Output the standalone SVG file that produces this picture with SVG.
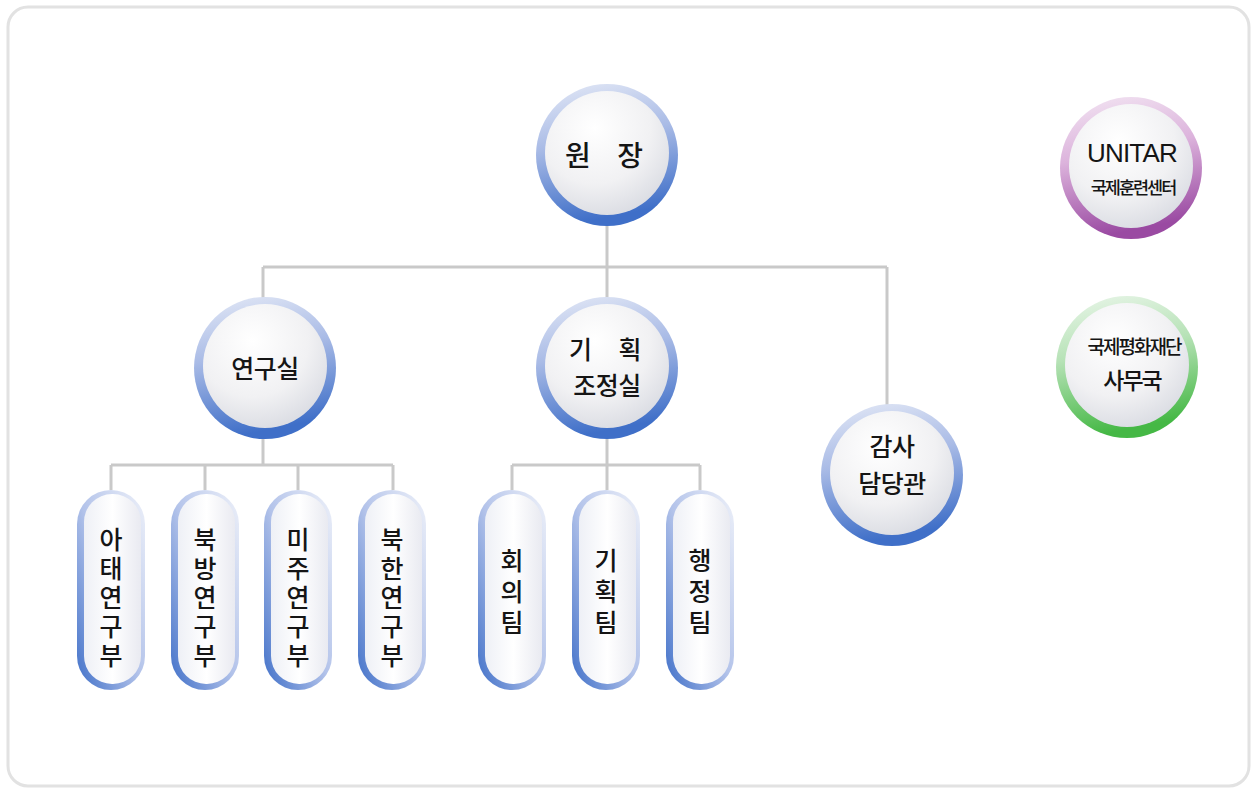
<svg xmlns="http://www.w3.org/2000/svg" width="1255" height="792" viewBox="0 0 1255 792">
<defs>
<linearGradient id="ringBlue" x1="0" y1="0" x2="0.2" y2="1">
<stop offset="0" stop-color="#e4e9f6"/>
<stop offset="0.45" stop-color="#a9bbe6"/>
<stop offset="1" stop-color="#3f6fc8"/>
</linearGradient>
<linearGradient id="ringPurple" x1="0" y1="0" x2="0.2" y2="1">
<stop offset="0" stop-color="#f3e6f3"/>
<stop offset="0.45" stop-color="#dcb3dc"/>
<stop offset="1" stop-color="#9a4aa2"/>
</linearGradient>
<linearGradient id="ringGreen" x1="0" y1="0" x2="0.2" y2="1">
<stop offset="0" stop-color="#eaf6ea"/>
<stop offset="0.45" stop-color="#b6e2b6"/>
<stop offset="1" stop-color="#45b845"/>
</linearGradient>
<radialGradient id="core" cx="0.4" cy="0.3" r="0.75">
<stop offset="0" stop-color="#ffffff"/>
<stop offset="0.6" stop-color="#f1f1f3"/>
<stop offset="1" stop-color="#d9dbe2"/>
</radialGradient>
<linearGradient id="pillRing" x1="1" y1="0" x2="0" y2="1">
<stop offset="0" stop-color="#eef1f9"/>
<stop offset="0.5" stop-color="#b3c3ea"/>
<stop offset="1" stop-color="#3f6fc8"/>
</linearGradient>
<linearGradient id="pillCore" x1="0" y1="0" x2="1" y2="0">
<stop offset="0" stop-color="#eef0f6"/>
<stop offset="0.5" stop-color="#ffffff"/>
<stop offset="1" stop-color="#e9eaf1"/>
</linearGradient>
</defs>
<style>
.frame{fill:#ffffff;stroke:#e2e2e2;stroke-width:3}
.conn{fill:none;stroke:#c9c9c9;stroke-width:3}
.core{fill:url(#core)}
.pring{fill:url(#pillRing)}
.pcore{fill:url(#pillCore)}
.t{font-family:"Noto Sans CJK KR","Noto Sans",sans-serif;fill:#151515;text-anchor:middle;font-weight:500}
.big{font-size:28px}
.mid{font-size:25px;letter-spacing:-0.5px}
.v{font-size:25px;writing-mode:vertical-rl;text-orientation:upright}
.v5{letter-spacing:4px}
.v3{letter-spacing:6px}
</style>
<rect class="frame" x="8" y="7" width="1241" height="779" rx="20"/>
<g id="connectors">
<path class="conn" d="M607 225 V267 M263 267 H887 M263 267 V300 M607 267 V298 M887 267 V405"/>
<path class="conn" d="M263 438 V465 M111 465 H393 M111 465 V490 M205 465 V490 M298 465 V490 M393 465 V490"/>
<path class="conn" d="M607 438 V465 M512 465 H700 M512 465 V490 M607 465 V490 M700 465 V490"/>
</g>
<g id="n-wonjang">
<circle cx="607" cy="155" r="71" fill="url(#ringBlue)"/>
<circle class="core" cx="607" cy="153" r="62"/>
<text class="t big" x="604" y="166" style="word-spacing:20px">원 장</text>
</g>
<g id="n-yeongusil">
<circle cx="265" cy="368" r="71" fill="url(#ringBlue)"/>
<circle class="core" cx="265" cy="366" r="62"/>
<text class="t mid" x="265" y="378">연구실</text>
</g>
<g id="n-gihoek">
<circle cx="607" cy="368" r="71" fill="url(#ringBlue)"/>
<circle class="core" cx="607" cy="366" r="62"/>
<text class="t mid" x="605" y="359" style="word-spacing:22px">기 획</text>
<text class="t mid" x="607" y="395">조정실</text>
</g>
<g id="n-gamsa">
<circle cx="892" cy="475" r="71" fill="url(#ringBlue)"/>
<circle class="core" cx="892" cy="473" r="62"/>
<text class="t mid" x="892" y="456">감사</text>
<text class="t mid" x="892" y="493">담당관</text>
</g>
<g id="n-unitar">
<circle cx="1131" cy="168" r="71" fill="url(#ringPurple)"/>
<circle class="core" cx="1131" cy="166" r="62"/>
<text class="t" x="1132" y="162" style="font-size:26px;font-weight:400;letter-spacing:-0.8px;font-family:'Liberation Sans','Noto Sans',sans-serif">UNITAR</text>
<text class="t" x="1133" y="194" style="font-size:17.5px;letter-spacing:-2px">국제훈련센터</text>
</g>
<g id="n-peace">
<circle cx="1127" cy="367" r="71" fill="url(#ringGreen)"/>
<circle class="core" cx="1127" cy="365" r="62"/>
<text class="t" x="1134" y="354" style="font-size:19px;letter-spacing:-2px">국제평화재단</text>
<text class="t" x="1132" y="389" style="font-size:23px;letter-spacing:-2px">사무국</text>
</g>
<g id="p-atae">
<rect class="pring" x="77" y="490" width="68" height="200" rx="34"/>
<rect class="pcore" x="84" y="494" width="57" height="190" rx="28"/>
<text class="t v v5" x="111" y="599">아태연구부</text>
</g>
<g id="p-bukbang">
<rect class="pring" x="171" y="490" width="68" height="200" rx="34"/>
<rect class="pcore" x="178" y="494" width="57" height="190" rx="28"/>
<text class="t v v5" x="205" y="599">북방연구부</text>
</g>
<g id="p-miju">
<rect class="pring" x="264" y="490" width="68" height="200" rx="34"/>
<rect class="pcore" x="271" y="494" width="57" height="190" rx="28"/>
<text class="t v v5" x="298" y="599">미주연구부</text>
</g>
<g id="p-bukhan">
<rect class="pring" x="358" y="490" width="68" height="200" rx="34"/>
<rect class="pcore" x="365" y="494" width="57" height="190" rx="28"/>
<text class="t v v5" x="392" y="599">북한연구부</text>
</g>
<g id="p-hoeui">
<rect class="pring" x="478" y="490" width="68" height="200" rx="34"/>
<rect class="pcore" x="485" y="494" width="57" height="190" rx="28"/>
<text class="t v v3" x="512" y="594">회의팀</text>
</g>
<g id="p-gihoek">
<rect class="pring" x="572" y="490" width="68" height="200" rx="34"/>
<rect class="pcore" x="579" y="494" width="57" height="190" rx="28"/>
<text class="t v v3" x="606" y="594">기획팀</text>
</g>
<g id="p-haengjeong">
<rect class="pring" x="666" y="490" width="68" height="200" rx="34"/>
<rect class="pcore" x="673" y="494" width="57" height="190" rx="28"/>
<text class="t v v3" x="700" y="594">행정팀</text>
</g>
</svg>
